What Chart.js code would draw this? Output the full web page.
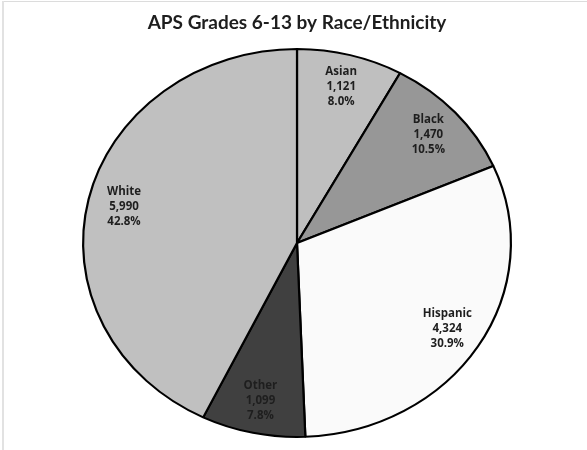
<!DOCTYPE html>
<html>
<head>
<meta charset="utf-8">
<script src="https://cdn.jsdelivr.net/npm/chart.js@4/dist/chart.umd.min.js"></script>
<style>
  html, body { margin: 0; padding: 0; background: #fff; }
  #wrap { position: relative; width: 587px; height: 450px; }
  #c { position: absolute; left: 0; top: 0; }
  .edgeTop { position: absolute; left: 2px; top: 1px; width: 585px; height: 1px; background: #dcdcdc; }
  .edgeLeft { position: absolute; left: 2px; top: 1px; width: 2px; height: 449px; background: #e2e2e2; }
</style>
</head>
<body>
<div id="wrap">
  <canvas id="c" width="587" height="450"></canvas>
  <div class="edgeTop"></div>
  <div class="edgeLeft"></div>
</div>
<script>
const categories = ["Asian", "Black", "Hispanic", "Other", "White"];
const counts = [1121, 1470, 4324, 1099, 5990];
const countLabels = ["1,121", "1,470", "4,324", "1,099", "5,990"];
const percentLabels = ["8.0%", "10.5%", "30.9%", "7.8%", "42.8%"];
const sliceColors = ["#bfbfbf", "#979797", "#fafafa", "#404040", "#c0c0c0"];
const titleText = "APS Grades 6-13 by Race/Ethnicity";

const X_STRETCH = 215 / 195;
const LABEL_FRAC = 0.83;

const ellipsePlugin = {
  id: 'ellipse',
  beforeDatasetsDraw(chart) {
    const arc = chart.getDatasetMeta(0).data[0];
    const ctx = chart.ctx;
    ctx.save();
    ctx.translate(arc.x, 0);
    ctx.scale(X_STRETCH, 1);
    ctx.translate(-arc.x, 0);
  },
  afterDatasetsDraw(chart) {
    const ctx = chart.ctx;
    ctx.restore();
    const meta = chart.getDatasetMeta(0);
    ctx.save();
    ctx.font = "bold 11.5px 'Open Sans', Lato, sans-serif";
    ctx.fillStyle = "#1e1e1e";
    ctx.textAlign = "center";
    ctx.textBaseline = "middle";
    meta.data.forEach((el, i) => {
      const p = el.getProps(['x', 'y', 'startAngle', 'endAngle', 'outerRadius'], true);
      const a = (p.startAngle + p.endAngle) / 2;
      const r = p.outerRadius * LABEL_FRAC;
      const x = p.x + Math.cos(a) * r * X_STRETCH;
      const y = p.y + Math.sin(a) * r;
      const lines = [categories[i], countLabels[i], percentLabels[i]];
      lines.forEach((t, k) => ctx.fillText(t, x, y + (k - 1) * 15));
    });
    ctx.restore();
  }
};

new Chart(document.getElementById('c'), {
  type: 'pie',
  data: {
    labels: categories,
    datasets: [{
      data: counts,
      backgroundColor: sliceColors,
      borderColor: "#000000",
      borderWidth: 2,
      hoverOffset: 0
    }]
  },
  options: {
    responsive: false,
    animation: false,
    radius: 194,
    layout: { padding: { top: 0, bottom: 12, left: 7, right: 0 } },
    plugins: {
      legend: { display: false },
      tooltip: { enabled: false },
      title: {
        display: true,
        text: titleText,
        color: "#1e1e1e",
        font: { family: "Lato, 'Open Sans', sans-serif", size: 19, weight: 'bold', lineHeight: 1.2 },
        padding: { top: 11.5, bottom: 13.7 }
      }
    }
  },
  plugins: [ellipsePlugin]
});
</script>
</body>
</html>
